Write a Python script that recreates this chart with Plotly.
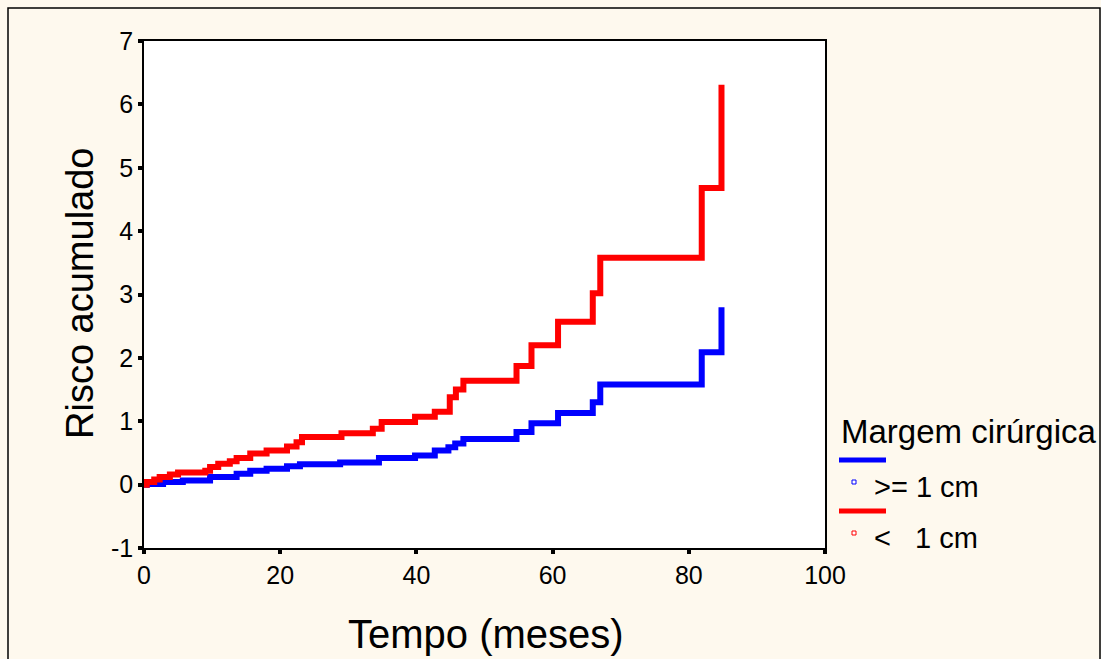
import plotly.graph_objects as go

# Cumulative hazard step data (time in months, cumulative risk)
t_ge1 = [0, 0.4, 2.8, 5.7, 9.7, 13.6, 15.6, 18.0, 21.0, 22.9, 28.8, 34.5, 39.8,
         42.7, 44.7, 45.7, 46.9, 54.7, 56.9, 60.8, 65.9, 67.0, 81.9, 84.8]
h_ge1 = [0.0, 0.01, 0.04, 0.065, 0.12, 0.17, 0.22, 0.25, 0.29, 0.32, 0.35, 0.42, 0.46,
         0.54, 0.59, 0.65, 0.72, 0.83, 0.97, 1.13, 1.30, 1.58, 2.09, 2.80]

t_lt1 = [0, 0.4, 1.5, 2.3, 3.8, 5.0, 9.0, 9.7, 10.9, 12.6, 13.6, 15.6, 18.0, 21.0,
         22.4, 23.2, 29.0, 33.6, 34.9, 39.8, 42.7, 44.9, 45.8, 46.9, 54.7, 56.9,
         60.8, 65.9, 67.0, 81.9, 84.8]
h_lt1 = [0.0, 0.04, 0.08, 0.12, 0.16, 0.19, 0.22, 0.28, 0.33, 0.37, 0.42, 0.49, 0.54, 0.60,
         0.67, 0.75, 0.81, 0.88, 0.99, 1.07, 1.15, 1.38, 1.50, 1.64, 1.87, 2.20,
         2.57, 3.02, 3.58, 4.68, 6.31]

x_ticks = [0, 20, 40, 60, 80, 100]
y_ticks = [-1, 0, 1, 2, 3, 4, 5, 6, 7]

legend_title = "Margem cirúrgica"
legend_labels = [">= 1 cm", "<   1 cm"]
colors = ["#0000FF", "#FF0000"]

FONT = "Arial, Liberation Sans, sans-serif"
BG = "#FEF9EE"

fig = go.Figure()
fig.add_trace(go.Scatter(x=t_ge1, y=h_ge1, mode="lines", line=dict(color=colors[0], width=6, shape="hv"),
                         name=legend_labels[0], showlegend=False))
fig.add_trace(go.Scatter(x=t_lt1, y=h_lt1, mode="lines", line=dict(color=colors[1], width=6, shape="hv"),
                         name=legend_labels[1], showlegend=False))

# plot area in px: x 144..825, y 41..548
L, R, T, B = 144, 825, 41, 548
W, H = 1101, 659
def px(x):
    return (x - L) / (R - L)
def py(y):
    return (B - y) / (B - T)

shapes = []
# outer frame
shapes.append(dict(type="rect", xref="paper", yref="paper", x0=px(8), x1=px(1100), y0=py(8), y1=py(700),
                   line=dict(color="black", width=1.5), fillcolor="rgba(0,0,0,0)", layer="below"))
# legend lines and markers
for i, (ly, my) in enumerate([(460, 482), (511, 533)]):
    shapes.append(dict(type="line", xref="paper", yref="paper", x0=px(839), x1=px(886), y0=py(ly), y1=py(ly),
                       line=dict(color=colors[i], width=5)))
    shapes.append(dict(type="rect", xref="paper", yref="paper", x0=px(852), x1=px(856), y0=py(my + 2), y1=py(my - 2),
                       line=dict(color=colors[i], width=1), fillcolor="white"))

annotations = [
    dict(text=legend_title, xref="paper", yref="paper", x=px(839), y=py(432), xanchor="left", yanchor="middle",
         showarrow=False, font=dict(size=33, color="black", family=FONT)),
    dict(text=legend_labels[0], xref="paper", yref="paper", x=px(872), y=py(487), xanchor="left", yanchor="middle",
         showarrow=False, font=dict(size=29, color="black", family=FONT)),
    dict(text=legend_labels[1].replace(" ", "&nbsp;"), xref="paper", yref="paper", x=px(872), y=py(538), xanchor="left", yanchor="middle",
         showarrow=False, font=dict(size=29, color="black", family=FONT)),
    dict(text="Tempo (meses)", xref="paper", yref="paper", x=px(486), y=py(634), xanchor="center", yanchor="middle",
         showarrow=False, font=dict(size=40, color="black", family=FONT)),
    dict(text="Risco acumulado", xref="paper", yref="paper", x=px(80), y=py(294), xanchor="center", yanchor="middle",
         textangle=-90, showarrow=False, font=dict(size=38, color="black", family=FONT)),
]

fig.update_layout(
    width=W, height=H,
    margin=dict(l=L, r=W - R, t=T, b=H - B, pad=0),
    paper_bgcolor=BG, plot_bgcolor="white",
    font=dict(family=FONT, color="black", size=25),
    shapes=shapes, annotations=annotations,
    showlegend=False,
)
fig.update_xaxes(range=[0, 100], tickvals=x_ticks, ticktext=[str(v) for v in x_ticks],
                 showgrid=False, zeroline=False, showline=True, linecolor="black", linewidth=1.5,
                 mirror=True, ticks="outside", ticklen=4, tickwidth=4, tickcolor="black",
                 tickfont=dict(size=25, family=FONT))
fig.update_yaxes(range=[-1, 7], tickvals=y_ticks, ticktext=[str(v) for v in y_ticks],
                 showgrid=False, zeroline=False, showline=True, linecolor="black", linewidth=1.5,
                 mirror=True, ticks="outside", ticklen=4, tickwidth=4, tickcolor="black",
                 tickfont=dict(size=25, family=FONT))

fig.write_html("out.html")
